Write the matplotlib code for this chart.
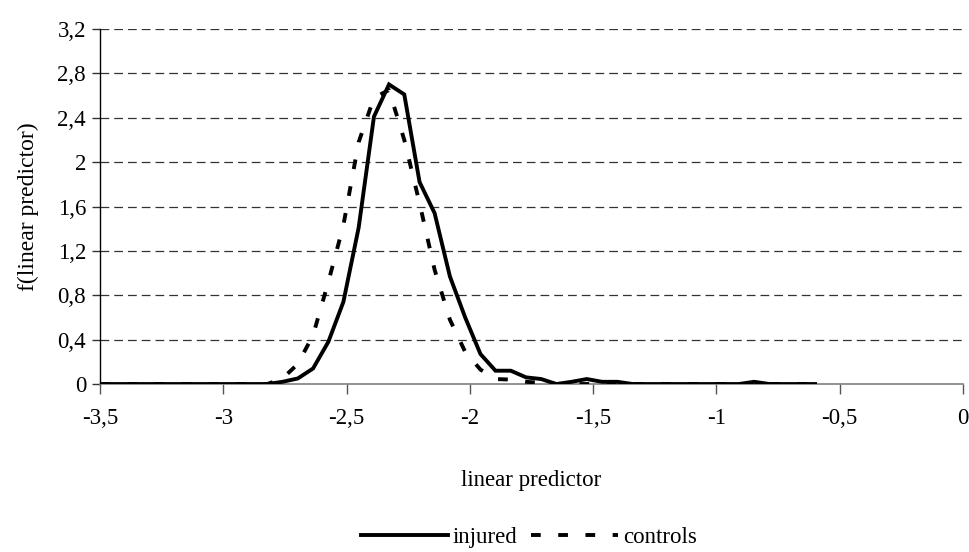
import matplotlib.pyplot as plt
from matplotlib.ticker import FuncFormatter
from matplotlib.lines import Line2D

plt.rcParams['font.family'] = ['Liberation Serif', 'DejaVu Serif']

# grid of the linear predictor (48 points from -3.5 to -0.6)
x = [-3.500, -3.438, -3.377, -3.315, -3.253, -3.191, -3.130, -3.068,
     -3.006, -2.945, -2.883, -2.821, -2.760, -2.698, -2.636, -2.574,
     -2.513, -2.451, -2.389, -2.328, -2.266, -2.204, -2.143, -2.081,
     -2.019, -1.957, -1.896, -1.834, -1.772, -1.711, -1.649, -1.587,
     -1.526, -1.464, -1.402, -1.340, -1.279, -1.217, -1.155, -1.094,
     -1.032, -0.970, -0.909, -0.847, -0.785, -0.723, -0.662, -0.600]

injured = [0, 0, 0, 0, 0, 0, 0, 0,
           0, 0, 0, 0, 0.02, 0.05, 0.14, 0.38,
           0.74, 1.41, 2.41, 2.70, 2.61, 1.82, 1.54, 0.97,
           0.60, 0.27, 0.12, 0.12, 0.06, 0.045, 0.0, 0.02,
           0.045, 0.02, 0.02, 0, 0, 0, 0, 0,
           0, 0, 0, 0.02, 0, 0, 0, 0]

controls = [0, 0, 0, 0, 0, 0, 0, 0,
            0, 0, 0, 0, 0.05, 0.18, 0.44, 0.92,
            1.43, 2.18, 2.58, 2.65, 2.20, 1.63, 1.03, 0.58,
            0.29, 0.13, 0.045, 0.04, 0.02, 0.01, 0, 0,
            0, 0, 0, 0, 0, 0, 0, 0,
            0, 0, 0, 0, 0, 0, 0, 0]

yticks = [0, 0.4, 0.8, 1.2, 1.6, 2, 2.4, 2.8, 3.2]
xticks = [-3.5, -3, -2.5, -2, -1.5, -1, -0.5, 0]

fig = plt.figure(figsize=(9.7, 5.52), dpi=100)
ax = fig.add_axes([0.1031, 0.3043, 0.8897, 0.6432])

fs = 16.5
lw = 2.8
dash = (2.5, 4.5)
ax.plot(x, controls, color='black', lw=lw, linestyle=(0, dash), zorder=3)
ax.plot(x, injured, color='black', lw=lw, solid_joinstyle='miter', zorder=4)

ax.set_xlim(-3.5, 0)
ax.set_ylim(0, 3.2)
ax.set_xticks(xticks)
ax.set_yticks(yticks)

fmt = FuncFormatter(lambda v, p: ('%g' % v).replace('.', ','))
ax.xaxis.set_major_formatter(fmt)
ax.yaxis.set_major_formatter(fmt)

for v in yticks[1:]:
    ax.axhline(v, color='#333333', lw=0.9, linestyle=(0, (7, 4)), zorder=1)

ax.spines['top'].set_visible(False)
ax.spines['right'].set_visible(False)
ax.spines['left'].set_color('black')
ax.spines['bottom'].set_color('#808080')
ax.spines['left'].set_linewidth(1.0)
ax.spines['bottom'].set_linewidth(1.2)

ax.tick_params(axis='x', direction='out', length=7, width=1.0, color='#555555',
               labelsize=fs, pad=10)
ax.tick_params(axis='y', direction='out', length=6, width=1.0, color='#333333',
               labelsize=fs, pad=4)

ax.set_xlabel('linear predictor', fontsize=fs, labelpad=30)
ax.set_ylabel('f(linear predictor)', fontsize=fs + 0.5, labelpad=13)

handles = [Line2D([], [], color='black', lw=lw),
           Line2D([], [], color='black', lw=lw, linestyle=(0, dash))]
fig.legend(handles, ['injured', 'controls'], loc='center',
           bbox_to_anchor=(0.545, 0.026), ncol=2, frameon=False,
           fontsize=fs, handlelength=3.8, handletextpad=0.2,
           columnspacing=0.6, borderaxespad=0)

fig.savefig('out.png', dpi=100)
